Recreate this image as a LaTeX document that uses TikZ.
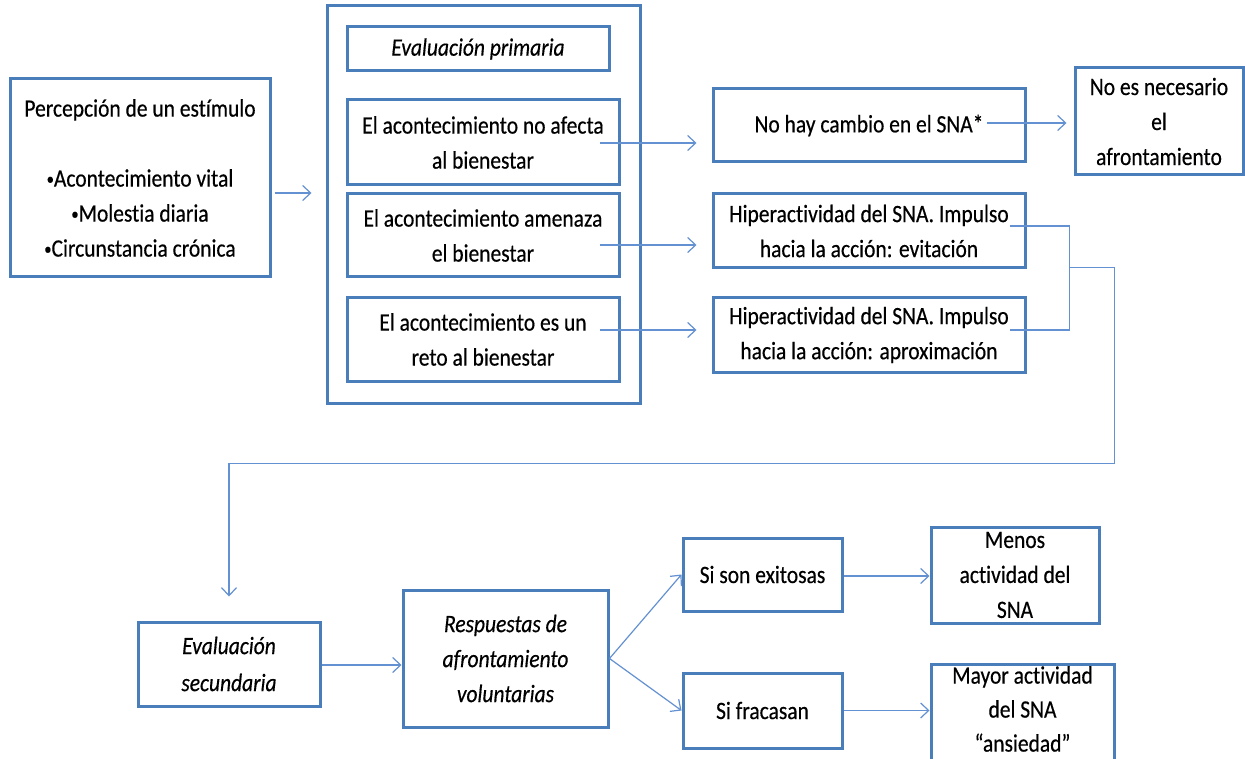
\documentclass[tikz,border=0pt]{standalone}
\usepackage{fontspec}
\setmainfont{Carlito}[FakeStretch=0.86,FakeBold=0.4,Ligatures=NoCommon]
\usetikzlibrary{arrows.meta,calc}
\definecolor{boxc}{RGB}{74,126,187}
\definecolor{linec}{RGB}{100,145,210}
\newcommand{\bul}{{\fontsize{17}{35}\selectfont\raisebox{2pt}{•}}}
\begin{document}
\begin{tikzpicture}[x=1pt,y=-1pt,
 box/.style={draw=boxc,line width=3pt,inner sep=0pt,align=center,font=\fontsize{25}{35}\selectfont},
 arr/.style={draw=linec,line width=1.2pt,-{Straight Barb[length=8pt,width=15pt,line width=1.2pt]}},
 ln/.style={draw=linec,line width=1.2pt}]
\useasboundingbox (0,0) rectangle (1245,759);
\fill[white] (0,0) rectangle (1245,759);
% nodes
\node[box,minimum width=260pt,minimum height=198pt] (perc) at (140,178)
 {Percepción de un estímulo\\[35pt]\bul Acontecimiento vital\\\bul Molestia diaria\\\bul Circunstancia crónica};
\node[box,minimum width=313pt,minimum height=397pt] (outer) at (483.5,204.5) {};
\node[box,minimum width=262pt,minimum height=44pt,font=\fontsize{25}{35}\selectfont\itshape] (prim) at (478,49) {Evaluación primaria};
\node[box,minimum width=272pt,minimum height=85pt] (a1) at (483,142.5) {El acontecimiento no afecta\\al bienestar};
\node[box,minimum width=272pt,minimum height=83pt] (a2) at (483,235.5) {El acontecimiento amenaza\\el bienestar};
\node[box,minimum width=272pt,minimum height=83pt] (a3) at (483,339.5) {El acontecimiento es un\\reto al bienestar};
\node[box,minimum width=312pt,minimum height=73pt] (nohay) at (869,125.5) {No hay cambio en el SNA*};
\node[box,minimum width=168pt,minimum height=107pt] (noes) at (1159,121.5) {No es necesario\\el\\afrontamiento};
\node[box,minimum width=312pt,minimum height=74pt] (hip1) at (869,231) {Hiperactividad del SNA. Impulso\\hacia la acción: evitación};
\node[box,minimum width=312pt,minimum height=74pt] (hip2) at (869,335) {Hiperactividad del SNA. Impulso\\hacia la acción: aproximación};
\node[box,minimum width=182pt,minimum height=84pt,font=\fontsize{25}{37}\selectfont\itshape] (sec) at (229,664) {Evaluación\\secundaria};
\node[box,minimum width=205pt,minimum height=137pt,font=\fontsize{25}{35}\selectfont\itshape] (resp) at (505.5,658.5) {Respuestas de\\afrontamiento\\voluntarias};
\node[box,minimum width=159pt,minimum height=73pt] (exit) at (762.5,574.5) {Si son exitosas};
\node[box,minimum width=159pt,minimum height=75pt] (frac) at (762.5,710.5) {Si fracasan};
\node[box,minimum width=168pt,minimum height=96pt] (menos) at (1015,575) {Menos\\actividad del\\SNA};
\node[box,minimum width=183pt,minimum height=96pt] (mayor) at (1022.5,712) {};
\node[font=\fontsize{25}{34}\selectfont,align=center,inner sep=0pt] (mayortxt) at (1022.5,709) {Mayor actividad\\del SNA\\“ansiedad”};
% connectors
\draw[arr] ($(perc.east)+(3,15)$) coordinate (p1) -- ($(p1 -| outer.west)+(-14,0)$);
\draw[arr] ($(a1.east)+(-21,0.5)$) coordinate (q1) -- ($(q1 -| nohay.west)+(-15,0)$);
\draw[arr] ($(a2.east)+(-21,9.5)$) coordinate (q2) -- ($(q2 -| hip1.west)+(-15,0)$);
\draw[arr] ($(a3.east)+(-21,-9.5)$) coordinate (q3) -- ($(q3 -| hip2.west)+(-15,0)$);
\draw[arr] ($(nohay.east)+(-40,-2.5)$) coordinate (q4) -- ($(q4 -| noes.west)+(-7,0)$);
\coordinate (bt) at ($(hip1.east)+(43,-5)$);
\coordinate (bb) at ($(hip2.east)+(43,-5)$);
\coordinate (bm) at ($(bt)!0.4!(bb)$);
\draw[ln] ($(hip1.east)+(-17,-5)$) -- (bt) -- (bb) -- ($(hip2.east)+(-17,-5)$);
\coordinate (r1) at ($(bm)+(45,0)$);
\coordinate (r2) at ($(r1)+(0,196)$);
\draw[arr] (bm) -- (r1) -- (r2) -- (r2 -| sec.north) -- ($(sec.north)+(0,-24)$);
\draw[arr] ($(sec.east)+(0,1)$) coordinate (s1) -- (s1 -| resp.west);
\draw[arr] (resp.east) -- (exit.west);
\draw[arr] (resp.east) -- (frac.west);
\draw[arr] ($(exit.east)+(0,1.5)$) coordinate (e1) -- (e1 -| menos.west);
\draw[arr] (frac.east) -- (frac.east -| mayor.west);
\end{tikzpicture}
\end{document}
